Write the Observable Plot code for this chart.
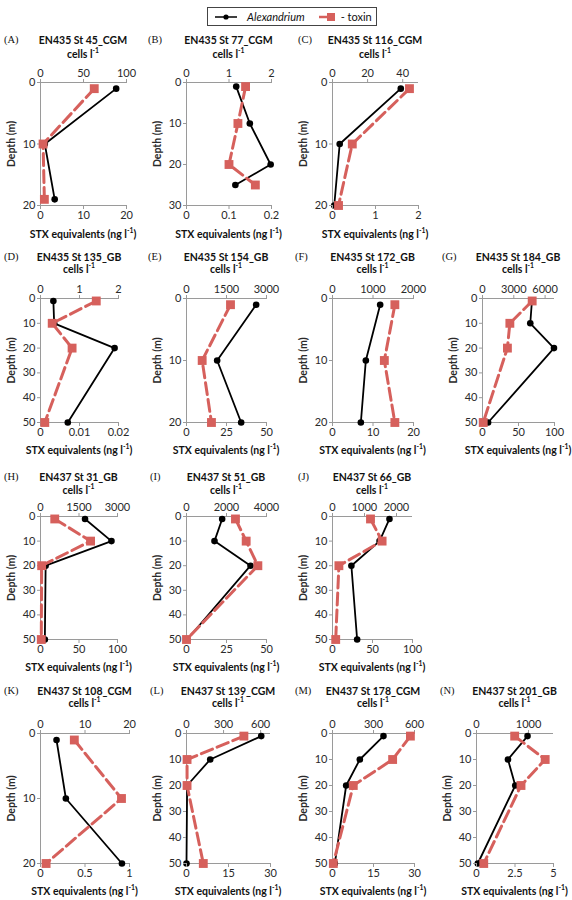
<!DOCTYPE html>
<html><head><meta charset="utf-8">
<script src="https://cdn.jsdelivr.net/npm/d3@7"></script>
<script src="https://cdn.jsdelivr.net/npm/@observablehq/plot@0.6"></script>
<style>
body{margin:0;background:#fff;}
#fig{position:relative;width:572px;height:900px;font-family:Lato,"Open Sans",sans-serif;color:#111;overflow:hidden;}
.t{position:absolute;transform:translate(-50%,-50%);white-space:nowrap;font-weight:bold;font-size:10.5px;line-height:1;}
.lab{position:absolute;transform:translateY(-50%);font-family:"Liberation Serif",serif;font-size:10.5px;line-height:1;}
.panel{position:absolute;}
.panel svg{position:absolute;left:0;top:0;}
sup{font-size:65%;line-height:0;vertical-align:super;}
g[aria-label="y-axis label"] text{font-weight:bold;font-size:10.5px;}
#legend{position:absolute;left:207px;top:7px;width:168px;height:17px;border:1px solid #444;display:flex;align-items:center;font-size:11px;white-space:nowrap;}
</style></head>
<body><div id="fig"></div>
<script>
// ---- data ----
const letters = ["A","B","C","D","E","F","G","H","I","J","K","L","M","N"];
const titles = ["EN435 St 45_CGM","EN435 St 77_CGM","EN435 St 116_CGM","EN435 St 135_GB","EN435 St 154_GB","EN435 St 172_GB","EN435 St 184_GB","EN437 St 31_GB","EN437 St 51_GB","EN437 St 66_GB","EN437 St 108_CGM","EN437 St 139_CGM","EN437 St 178_CGM","EN437 St 201_GB"];
const depths = [[1,10,19],[1,10,20,25],[1,10,20],[1,10,20,50],[1,10,20],[1,10,20],[1,10,20,50],[1,10,20,50],[1,10,20,50],[1,10,20,50],[1,10,20],[1,10,20,50],[1,10,20,50],[1,10,20,50]];
const cells = [[88,5,16.5],[1.17,1.49,1.98,1.15],[38.9,4.1,1],[0.33,0.35,1.9,0.7],[2612,1150,2050],[1177,823,700],[4737,4579,6850,537],[1735,2765,200,170],[1783,1400,3200,33],[1780,1470,590,770],[3.6,5.7,18.3],[605,192,5,0],[373,200,100,17],[981,605,745,25]];
const toxin = [[12.5,0.6,0.9],[0.139,0.121,0.10,0.162],[1.79,0.46,0.14],[0.0143,0.003,0.0081,0.0011],[27.5,9.8,15.6],[15.4,12.8,15.4],[69,38,34.6,1],[18.5,65,1.5,1],[30.6,37.3,44.6,0],[47.5,62,8,4],[0.38,0.91,0.063],[20.5,0.2,0.2,6],[28.5,22,7.6,0.3],[2.48,4.46,2.89,0.47]];
const cellMax = [100,2,49,2,3000,2000,6900,3000,4000,2500,20,680,600,1480];
const toxinMax = [20,0.2,2,0.02,50,20,100,100,50,100,1,30,30,5];
const depthMax = [20,30,20,50,20,20,50,50,50,50,20,50,50,50];
const cellTicks = [[0,50,100],[0,1,2],[0,20,40],[0,1,2],[0,1500,3000],[0,1000,2000],[0,3000,6000],[0,1500,3000],[0,2000,4000],[0,1000,2000],[0,10,20],[0,300,600],[0,300,600],[0,1000]];
const toxinTicks = [[0,10,20],[0,0.1,0.2],[0,1,2],[0,0.01,0.02],[0,25,50],[0,10,20],[0,50,100],[0,50,100],[0,25,50],[0,50,100],[0,0.5,1],[0,15,30],[0,15,30],[0,2.5,5]];

// ---- layout ----
const row = [0,0,0,1,1,1,1,2,2,2,3,3,3,3];
const letterX = [4,148,298,4,148,295,442,4,150,298,4,150,295,440];
const x0 = [40,186,332,40,186,332,482,40,186,332,40,186,332,476];
const x1 = [126,271,418,118,266,413,554,117,266,412,129,270,414,553];
const rowY0 = [82,298,516,733], rowY1 = [205,422,639,863];
const titleY = [40,257,477,691], cellsY = [54,269,490,703], stxY = [234,450,667,891];
const RED = "#d6605c", AX = "#9a9a9a", TXT = "#2a2a2a";
const mL = 36, mR = 10, mT = 20, mB = 20;
const fmt = d => String(d);

const fig = document.getElementById("fig");
function addText(cls, html, x, y){
  const d = document.createElement("div"); d.className = cls; d.innerHTML = html;
  d.style.left = x + "px"; d.style.top = y + "px"; fig.appendChild(d); return d;
}

// legend
const lg = document.createElement("div"); lg.id = "legend";
lg.innerHTML = `<svg width="24" height="10" style="margin-left:7px;flex:none"><line x1="0" y1="5" x2="22" y2="5" stroke="black" stroke-width="1.5"/><circle cx="11" cy="5" r="2.6" fill="black"/></svg>
<span style="font-style:italic;margin-left:8px">Alexandrium</span>
<svg width="18" height="10" style="margin-left:14px;flex:none"><line x1="0" y1="5" x2="16" y2="5" stroke="${RED}" stroke-width="2.5"/><rect x="8" y="1" width="8" height="8" fill="${RED}"/></svg>
<span style="margin-left:4px">- toxin</span>`;
fig.appendChild(lg);

letters.forEach((L, i) => {
  const r = row[i];
  const y0 = rowY0[r], y1 = rowY1[r];
  const W = x1[i] - x0[i], H = y1 - y0;
  const cx = (x0[i] + x1[i]) / 2;
  addText("lab", `(${L})`, letterX[i], titleY[r]);
  addText("t", titles[i], cx, titleY[r]);
  addText("t", "cells l<sup>-1</sup>", cx, cellsY[r]);
  addText("t", "STX equivalents (ng l<sup>-1</sup>)", cx, stxY[r]);

  const rows = depths[i].map((d, k) => ({depth: d, cells: cells[i][k], toxin: toxin[i][k]}));
  const dTicks = d3.range(0, depthMax[i] + 1, 10);
  const common = {
    width: W + mL + mR, height: H + mT + mB,
    marginLeft: mL, marginRight: mR, marginTop: mT, marginBottom: mB,
    style: {background: "transparent", overflow: "visible", fontFamily: "Lato, sans-serif", fontSize: "11px"},
  };
  const p = document.createElement("div"); p.className = "panel";
  p.style.left = (x0[i] - mL) + "px"; p.style.top = (y0 - mT) + "px";
  p.style.width = common.width + "px"; p.style.height = common.height + "px";

  const cellPlot = Plot.plot({
    ...common,
    x: {domain: [0, cellMax[i]]},
    y: {domain: [0, depthMax[i]], reverse: true, axis: null},
    marks: [
      Plot.axisX({anchor: "top", ticks: cellTicks[i], tickFormat: fmt, tickSize: 4, tickPadding: 2, stroke: AX, fill: TXT, label: null}),
      Plot.ruleY([0, depthMax[i]], {stroke: AX}),
      Plot.ruleX([0], {stroke: AX}),
      Plot.line(rows, {x: "cells", y: "depth", stroke: "black", strokeWidth: 1.8}),
      Plot.dot(rows, {x: "cells", y: "depth", fill: "black", r: 3.3})
    ]
  });
  const toxPlot = Plot.plot({
    ...common,
    x: {domain: [0, toxinMax[i]]},
    y: {domain: [0, depthMax[i]], reverse: true},
    marks: [
      Plot.axisX({anchor: "bottom", ticks: toxinTicks[i], tickFormat: fmt, tickSize: 4, tickPadding: 2, stroke: AX, fill: TXT, label: null}),
      Plot.axisY({anchor: "left", ticks: dTicks, tickFormat: fmt, tickSize: 3, tickPadding: 2, stroke: AX, fill: TXT, label: "Depth (m)", labelAnchor: "center", labelArrow: "none", labelOffset: 33}),
      Plot.line(rows, {x: "toxin", y: "depth", stroke: RED, strokeWidth: 3, strokeDasharray: "12,5"}),
      Plot.dot(rows, {x: "toxin", y: "depth", symbol: "square", fill: RED, r: 5})
    ]
  });
  p.appendChild(cellPlot);
  p.appendChild(toxPlot);
  fig.appendChild(p);
});
</script></body></html>
